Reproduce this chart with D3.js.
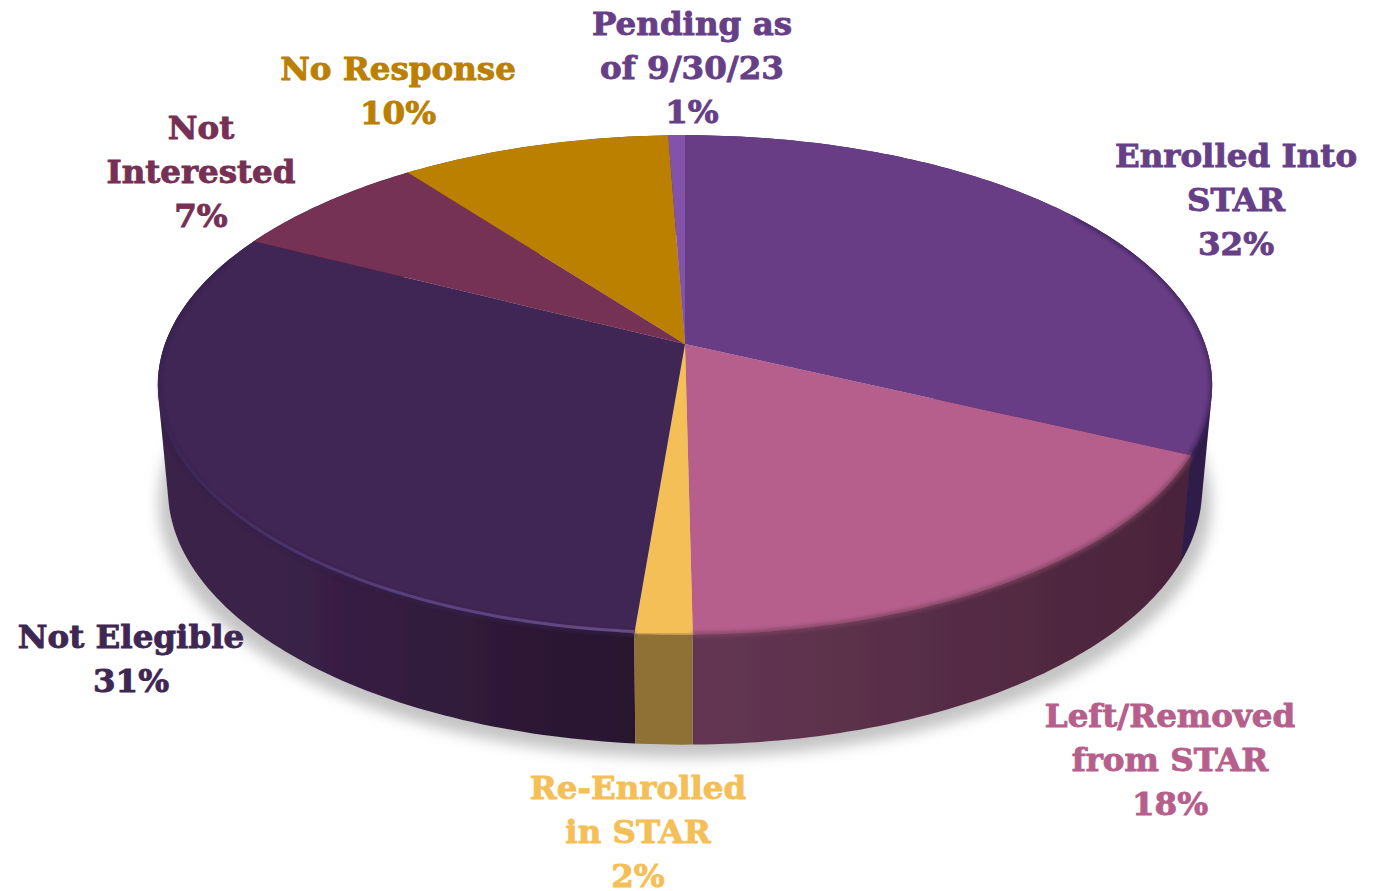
<!DOCTYPE html>
<html>
<head>
<meta charset="utf-8">
<script src="https://cdn.jsdelivr.net/npm/d3@7"></script>
<style>
  html, body { margin: 0; padding: 0; background: #fff; }
  svg { display: block; }
</style>
</head>
<body>
<script>
// Data
const categories = ["Enrolled Into STAR", "Left/Removed from STAR", "Re-Enrolled in STAR", "Not Elegible", "Not Interested", "No Response", "Pending as of 9/30/23"];
const values = [32, 17.8, 1.5, 31.2, 7.2, 9.7, 0.6];
const shownPercent = ["32%", "18%", "2%", "31%", "7%", "10%", "1%"];
const labelLines = [["Enrolled Into", "STAR"], ["Left/Removed", "from STAR"], ["Re-Enrolled", "in STAR"], ["Not Elegible"], ["Not", "Interested"], ["No Response"], ["Pending as", "of 9/30/23"]];

// Colours
const faceColors = ["#673e85", "#b65f8c", "#f5bf58", "#3f2754", "#763054", "#bb8003", "#8253a8"];
const textColors = ["#663f87", "#b65f8c", "#f5bf58", "#3f2754", "#763054", "#bb8003", "#663f87"];
const wallStops = [["#33204f", "#2f1c49"], ["#643653", "#49233a"], ["#8f7034", "#8f7034"], ["#3b2249", "#28142e"], ["#4a1e35", "#4a1e35"], ["#755002", "#755002"], ["#4f3268", "#4f3268"]];
const rimColors = ["#3a2358", "#7d4261", "#b8904a", "#33204a", "#53223b", "#84600a", "#5a3a78"];

// Label placement: centre x and first baseline
const labelX = [1236, 1170, 638, 131, 201, 398, 692];
const labelY = [167, 727, 799, 648, 139, 80, 35];
const lineHeight = 44;

const width = 1388, height = 891;

// Perspective projection of the disc: v is depth, front is +1
const k = -0.164;
const topPlane = { cx: 685, cy: 344, a: 520, b: 243 };
const bottomPlane = { cx: 685, cy: 448, a: 510, b: 248 };

function project(plane, angle) {
    const u = Math.sin(angle), v = -Math.cos(angle);
    const d = 1 + k * v;
    return [plane.cx + plane.a * u / d, plane.cy + plane.b * v / d];
}

function sampleAngles(a0, a1) {
    const step = Math.PI / 180;
    return d3.range(a0, a1, step).concat([a1]);
}

const line = d3.line();
const rad = deg => deg * Math.PI / 180;

const arcs = d3.pie().sort(null).value(d => d)(values);

const svg = d3.select("body").append("svg")
    .attr("width", width)
    .attr("height", height)
    .style("background-color", "#fff");

const defs = svg.append("defs");

function addBlur(id, dev) {
    defs.append("filter")
        .attr("id", id)
        .attr("x", "-10%").attr("y", "-10%")
        .attr("width", "120%").attr("height", "120%")
        .append("feGaussianBlur")
        .attr("stdDeviation", dev);
}
addBlur("shadowBlur", 7);
addBlur("rimBlur", 2);
addBlur("softBlur", 0.6);

// One horizontal gradient per slice wall
wallStops.forEach((stops, i) => {
    const sideA = project(topPlane, arcs[i].startAngle)[0];
    const sideB = project(topPlane, arcs[i].endAngle)[0];
    const g = defs.append("linearGradient")
        .attr("id", "wall" + i)
        .attr("gradientUnits", "userSpaceOnUse")
        .attr("x1", Math.min(sideA, sideB)).attr("x2", Math.max(sideA, sideB))
        .attr("y1", 0).attr("y2", 0);
    g.append("stop").attr("offset", 0).attr("stop-color", stops[0]);
    g.append("stop").attr("offset", 1).attr("stop-color", stops[1]);
});

const hl = defs.append("linearGradient")
    .attr("id", "highlight")
    .attr("gradientUnits", "userSpaceOnUse")
    .attr("x1", 170).attr("x2", 640).attr("y1", 0).attr("y2", 0);
hl.append("stop").attr("offset", 0).attr("stop-color", "#5d4382").attr("stop-opacity", 0.1);
hl.append("stop").attr("offset", 0.5).attr("stop-color", "#5d4382").attr("stop-opacity", 0.9);
hl.append("stop").attr("offset", 1).attr("stop-color", "#6a5088").attr("stop-opacity", 0.9);

// Outline of the whole solid, keeps the bevel from spilling out
const fullCircle = sampleAngles(0, 2 * Math.PI);
const solidHull = d3.polygonHull(fullCircle.map(a => project(topPlane, a)).concat(fullCircle.map(a => project(bottomPlane, a))));
defs.append("clipPath").attr("id", "solidClip")
    .append("path")
    .attr("d", line(solidHull) + "Z");

// Shadow on the ground
const ring = fullCircle.map(a => {
    const p = project(bottomPlane, a);
    return [bottomPlane.cx + (p[0] - bottomPlane.cx) * 1.018, p[1] + 13];
});
svg.append("path")
    .attr("d", line(ring) + "Z")
    .attr("fill", "#c4c4c4")
    .attr("filter", "url(#shadowBlur)");

const pie3d = svg.append("g").attr("filter", "url(#softBlur)");

// Side walls, back slices first
function wallPath(d) {
    const angles = sampleAngles(d.startAngle, d.endAngle);
    const upper = angles.map(a => project(topPlane, a));
    const lower = angles.map(a => project(bottomPlane, a));
    return line(d3.polygonHull(upper.concat(lower))) + "Z";
}

const wallOrder = [4, 5, 6, 0, 3, 1, 2];
pie3d.selectAll("path.wall")
    .data(wallOrder.map(i => ({ d: arcs[i], i })))
    .enter()
    .append("path")
    .attr("class", "wall")
    .attr("d", e => wallPath(e.d))
    .attr("fill", e => `url(#wall${e.i})`);

// Top face
function facePath(d) {
    const rim = sampleAngles(d.startAngle, d.endAngle).map(a => project(topPlane, a));
    return line([[topPlane.cx, topPlane.cy]].concat(rim)) + "Z";
}

pie3d.selectAll("path.face")
    .data(arcs)
    .enter()
    .append("path")
    .attr("class", "face")
    .attr("d", facePath)
    .attr("fill", (d, i) => faceColors[i]);

// Soft bevel along the visible rim
const rimFrom = rad(55), rimTo = rad(292);
const rimArcs = arcs.map((d, i) => ({
    a0: Math.max(d.startAngle, rimFrom),
    a1: Math.min(d.endAngle, rimTo),
    i
})).filter(r => r.a1 > r.a0);

svg.append("g")
    .attr("clip-path", "url(#solidClip)")
    .selectAll("path")
    .data(rimArcs)
    .enter()
    .append("path")
    .attr("d", r => line(sampleAngles(r.a0, r.a1).map(a => project(topPlane, a))))
    .attr("fill", "none")
    .attr("stroke", r => rimColors[r.i])
    .attr("stroke-width", 4)
    .attr("filter", "url(#rimBlur)");

// Light line on the front left edge
const notElegible = arcs[categories.indexOf("Not Elegible")];
svg.append("path")
    .attr("d", line(sampleAngles(notElegible.startAngle, rad(262)).map(a => {
        const p = project(topPlane, a);
        return [p[0], p[1] - 2];
    })))
    .attr("fill", "none")
    .attr("stroke", "url(#highlight)")
    .attr("stroke-width", 3)
    .attr("filter", "url(#softBlur)");

// Labels
const labels = svg.append("g")
    .attr("font-family", "'DejaVu Serif', serif")
    .attr("font-weight", "bold")
    .attr("font-size", 32.5)
    .attr("text-anchor", "middle");

categories.forEach((name, i) => {
    const label = labels.append("text")
        .attr("fill", textColors[i])
        .attr("stroke", textColors[i])
        .attr("stroke-width", 0.9);
    labelLines[i].concat([shownPercent[i]]).forEach((t, j) => {
        label.append("tspan")
            .attr("x", labelX[i])
            .attr("y", labelY[i] + j * lineHeight)
            .text(t);
    });
});
</script>
</body>
</html>
